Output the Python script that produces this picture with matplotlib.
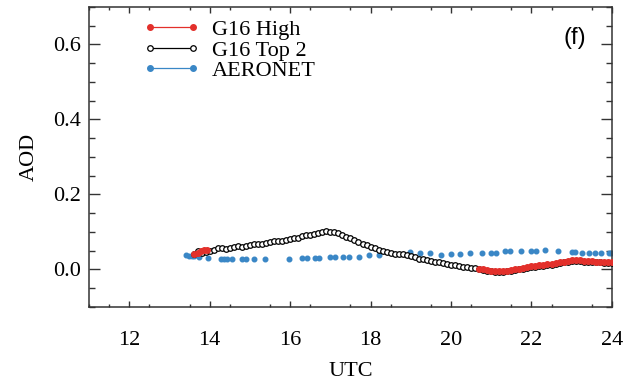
import matplotlib
matplotlib.use("Agg")
import matplotlib.pyplot as plt
from matplotlib.lines import Line2D

# ---------------- data ----------------
top2_t = [13.6, 13.7, 13.8, 13.9, 14.0, 14.1, 14.2, 14.3, 14.4, 14.5, 14.6, 14.7, 14.8, 14.9,
          15.0, 15.1, 15.2, 15.3, 15.4, 15.5, 15.6, 15.7, 15.8, 15.9, 16.0, 16.1, 16.2, 16.3,
          16.4, 16.5, 16.6, 16.7, 16.8, 16.9, 17.0, 17.1, 17.2, 17.3, 17.4, 17.5, 17.6, 17.7,
          17.8, 17.9, 18.0, 18.1, 18.2, 18.3, 18.4, 18.5, 18.6, 18.7, 18.8, 18.9, 19.0, 19.1,
          19.2, 19.3, 19.4, 19.5, 19.6, 19.7, 19.8, 19.9, 20.0, 20.1, 20.2, 20.3, 20.4, 20.5,
          20.6, 20.7, 20.8, 20.9, 21.0, 21.1, 21.2, 21.3, 21.4, 21.5, 21.6, 21.7, 21.8, 21.9,
          22.0, 22.1, 22.2, 22.3, 22.4, 22.5, 22.6, 22.7, 22.8, 22.9, 23.0, 23.1, 23.2, 23.3,
          23.4, 23.5, 23.6, 23.7, 23.8, 23.9, 24.0]
top2_aod = [0.040, 0.050, 0.045, 0.047, 0.049, 0.052, 0.056, 0.057, 0.055, 0.056, 0.060, 0.062,
            0.061, 0.062, 0.065, 0.067, 0.068, 0.069, 0.071, 0.073, 0.075, 0.076, 0.077, 0.079,
            0.081, 0.083, 0.085, 0.088, 0.091, 0.093, 0.094, 0.097, 0.101, 0.103, 0.101, 0.099,
            0.096, 0.092, 0.087, 0.083, 0.078, 0.073, 0.069, 0.064, 0.060, 0.056, 0.052, 0.049,
            0.046, 0.044, 0.042, 0.041, 0.040, 0.038, 0.035, 0.032, 0.029, 0.027, 0.025, 0.023,
            0.021, 0.019, 0.017, 0.015, 0.013, 0.011, 0.009, 0.007, 0.006, 0.004, 0.003, 0.001,
            -0.001, -0.003, -0.004, -0.006, -0.006, -0.006, -0.005, -0.004, -0.002, 0.000, 0.002,
            0.004, 0.006, 0.007, 0.009, 0.010, 0.012, 0.013, 0.015, 0.017, 0.019, 0.021, 0.022,
            0.022, 0.022, 0.021, 0.020, 0.020, 0.019, 0.019, 0.018, 0.018, 0.018]

high_t_early = [13.62, 13.70, 13.78, 13.86, 13.94]
high_aod_early = [0.042, 0.045, 0.048, 0.051, 0.053]
high_t_late = [20.7, 20.8, 20.9, 21.0, 21.1, 21.2, 21.3, 21.4, 21.5, 21.6, 21.7, 21.8, 21.9,
               22.0, 22.1, 22.2, 22.3, 22.4, 22.5, 22.6, 22.7, 22.8, 22.9, 23.0, 23.1, 23.2,
               23.3, 23.4, 23.5, 23.6, 23.7, 23.8, 23.9, 24.0]
high_aod_late = [0.002, 0.000, -0.002, -0.003, -0.004, -0.004, -0.004, -0.003, -0.002, 0.000,
                 0.002, 0.004, 0.006, 0.008, 0.009, 0.011, 0.012, 0.014, 0.015, 0.017, 0.019,
                 0.021, 0.023, 0.024, 0.024, 0.024, 0.023, 0.022, 0.022, 0.021, 0.021, 0.020,
                 0.020, 0.020]

aer_t = [13.42, 13.49, 13.57, 13.62, 13.74, 13.97, 14.29, 14.36, 14.44, 14.56, 14.81, 14.91,
         15.11, 15.38, 15.96, 16.30, 16.43, 16.63, 16.73, 16.98, 17.12, 17.32, 17.47, 17.72,
         17.97, 18.21, 18.99, 19.24, 19.49, 19.74, 19.99, 20.23, 20.48, 20.76, 21.00, 21.13,
         21.35, 21.48, 21.75, 22.00, 22.12, 22.35, 22.67, 23.00, 23.09, 23.27, 23.42, 23.57,
         23.72, 23.94, 23.99]
aer_aod = [0.038, 0.037, 0.036, 0.035, 0.032, 0.030, 0.027, 0.027, 0.027, 0.028, 0.027, 0.027,
           0.028, 0.027, 0.028, 0.031, 0.031, 0.031, 0.031, 0.032, 0.032, 0.033, 0.033, 0.034,
           0.038, 0.038, 0.046, 0.043, 0.043, 0.038, 0.040, 0.042, 0.043, 0.043, 0.043, 0.045,
           0.048, 0.048, 0.050, 0.050, 0.050, 0.051, 0.048, 0.046, 0.046, 0.045, 0.045, 0.045,
           0.045, 0.045, 0.045]

x_ticks = [12, 14, 16, 18, 20, 22, 24]
y_ticks = [0.0, 0.2, 0.4, 0.6]
labels = ["G16 High", "G16 Top 2", "AERONET"]

RED = "#e3302b"
BLUE = "#3a87c6"

plt.rcParams['font.family'] = ['Liberation Serif', 'DejaVu Serif']

fig = plt.figure(figsize=(6.36, 3.88), dpi=100)
ax = fig.add_axes([0.140, 0.209, 0.822, 0.773])

ax.plot(aer_t, aer_aod, linestyle='none', marker='o', ms=3.3, color=BLUE, mec=BLUE, zorder=2)
ax.plot(top2_t, top2_aod, '-', color='black', lw=0.9, marker='o', ms=4.0, mfc='white',
        mec='black', mew=0.9, zorder=3)
ax.plot(high_t_early, high_aod_early, '-', color=RED, lw=0.9, marker='o', ms=4.0, mec=RED, zorder=4)
ax.plot(high_t_late, high_aod_late, '-', color=RED, lw=0.9, marker='o', ms=4.0, mec=RED, zorder=4)

ax.set_xlim(11, 24)
ax.set_ylim(-0.1, 0.7)
ax.set_xticks(x_ticks)
ax.set_yticks(y_ticks)
ax.set_yticklabels([f"{v:.1f}" for v in y_ticks])
ax.set_xticks([x + 0.5 for x in range(11, 24)] + [11], minor=True)
ax.set_yticks([-0.1 + 0.05 * i for i in range(17)], minor=True)

ax.tick_params(axis='both', which='both', direction='in', labelsize=16, top=True, right=True,
               color='#333333', width=1.0)
ax.tick_params(axis='y', which='major', length=8, pad=6)
ax.tick_params(axis='y', which='minor', length=4.5)
ax.tick_params(axis='x', which='major', length=4.5, pad=17)
ax.tick_params(axis='x', which='minor', length=2.2)
for s in ax.spines.values():
    s.set_linewidth(1.1)
    s.set_color('#333333')

ax.set_xlabel("UTC", fontsize=16, labelpad=9)
ax.set_ylabel("AOD", fontsize=16, labelpad=10)

ax.text(0.929, 0.897, "(f)", transform=ax.transAxes, fontsize=17,
        family=['Liberation Sans', 'DejaVu Sans'], ha='center', va='center')

handles = [
    Line2D([], [], color=RED, lw=0.9, marker='o', ms=4.0, mec=RED),
    Line2D([], [], color='black', lw=0.9, marker='o', ms=4.0, mfc='white', mec='black', mew=0.9),
    Line2D([], [], color=BLUE, lw=0.9, marker='o', ms=4.0, mec=BLUE),
]
ax.legend(handles, labels, loc='upper left', bbox_to_anchor=(0.078, 1.003), frameon=False,
          fontsize=16, numpoints=2, handlelength=2.55, handletextpad=0.55, labelspacing=0.0,
          borderaxespad=0.2)

fig.savefig("out.png", dpi=100)
